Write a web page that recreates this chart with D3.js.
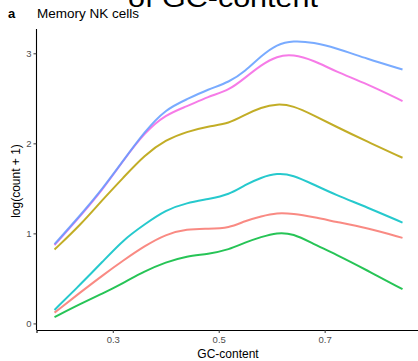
<!DOCTYPE html>
<html>
<head>
<meta charset="utf-8">
<script src="https://cdn.jsdelivr.net/npm/d3@7/dist/d3.min.js"></script>
<style>
  html, body { margin: 0; padding: 0; background: #fff; }
  svg { display: block; }
  text { font-family: "Liberation Sans", Arial, sans-serif; }
</style>
</head>
<body>
<svg id="chart" width="418" height="361"></svg>
<script>
// GC-content grid shared by all smoothed curves
const gcContent = [0.19, 0.24, 0.28, 0.32, 0.36, 0.40, 0.44, 0.48, 0.52, 0.55, 0.58, 0.61, 0.64, 0.68, 0.72, 0.78, 0.847];

// log(count + 1) per group, one array per curve
const seriesNames = ["blue", "pink", "olive", "cyan", "red", "green"];
const blueVals  = [0.88, 1.21, 1.49, 1.81, 2.13, 2.38, 2.49, 2.60, 2.68, 2.80, 2.97, 3.10, 3.14, 3.12, 3.06, 2.94, 2.82];
const pinkVals  = [0.87, 1.20, 1.48, 1.81, 2.12, 2.32, 2.41, 2.52, 2.59, 2.73, 2.87, 2.97, 2.99, 2.92, 2.80, 2.66, 2.47];
const oliveVals = [0.82, 1.10, 1.37, 1.62, 1.87, 2.04, 2.13, 2.19, 2.22, 2.32, 2.40, 2.44, 2.42, 2.31, 2.19, 2.02, 1.84];
const cyanVals  = [0.15, 0.44, 0.68, 0.93, 1.10, 1.26, 1.34, 1.38, 1.43, 1.54, 1.62, 1.67, 1.65, 1.54, 1.43, 1.29, 1.12];
const redVals   = [0.12, 0.35, 0.53, 0.70, 0.86, 0.99, 1.05, 1.05, 1.06, 1.14, 1.19, 1.23, 1.22, 1.18, 1.13, 1.06, 0.95];
const greenVals = [0.07, 0.22, 0.33, 0.45, 0.58, 0.68, 0.75, 0.77, 0.82, 0.90, 0.96, 1.01, 1.00, 0.88, 0.77, 0.59, 0.38];

const xTicks = [0.3, 0.5, 0.7];
const yTicks = [0, 1, 2, 3];

const seriesColors = {
  blue: "#619CFF", pink: "#F564E3", olive: "#B79F00",
  cyan: "#00BFC4", red: "#F8766D", green: "#00BA38"
};
const seriesValues = {
  blue: blueVals, pink: pinkVals, olive: oliveVals,
  cyan: cyanVals, red: redVals, green: greenVals
};

const svg = d3.select("#chart");

const x = d3.scaleLinear().domain([0.156, 0.88]).range([36.5, 420]);
const y = d3.scaleLinear().domain([-0.073, 3.27]).range([330, 29]);

// heading text running above the panel
svg.append("text")
  .attr("x", 128).attr("y", 7)
  .attr("font-size", 26)
  .attr("textLength", 190)
  .attr("lengthAdjust", "spacingAndGlyphs")
  .attr("fill", "#000")
  .text("of GC-content");

svg.append("text")
  .attr("x", 8).attr("y", 18)
  .attr("font-size", 13).attr("font-weight", "bold")
  .text("a");

svg.append("text")
  .attr("x", 37).attr("y", 18)
  .attr("font-size", 13.5)
  .text("Memory NK cells");

// smoothed curves
const line = d3.line()
  .x((d, i) => x(gcContent[i]))
  .y(d => y(d))
  .curve(d3.curveBasis);

svg.append("g")
  .selectAll("path")
  .data(seriesNames.slice().reverse())
  .join("path")
  .attr("d", name => line(seriesValues[name]))
  .attr("fill", "none")
  .attr("stroke", name => seriesColors[name])
  .attr("stroke-width", 2)
  .attr("stroke-opacity", 0.85)
  .attr("stroke-linejoin", "round")
  .attr("stroke-linecap", "butt");

// axes
const xAxis = d3.axisBottom(x).tickValues(xTicks).tickFormat(d3.format(".1f")).tickSizeOuter(0).tickSize(3).tickPadding(3);
const yAxis = d3.axisLeft(y).tickValues(yTicks).tickFormat(d3.format("d")).tickSizeOuter(0).tickSize(3).tickPadding(2);

const gx = svg.append("g").attr("transform", "translate(0,330)").call(xAxis);
const gy = svg.append("g").attr("transform", "translate(36.5,0)").call(yAxis);

[gx, gy].forEach(g => {
  g.select(".domain").attr("stroke", "#000").attr("stroke-width", 1.1);
  g.selectAll(".tick line").attr("stroke", "#333").attr("stroke-width", 1);
  g.selectAll(".tick text").attr("fill", "#4D4D4D").attr("font-size", 9.5)
    .attr("font-family", "'Liberation Sans', Arial, sans-serif");
});
// extend left axis line to the panel top
gy.select(".domain").attr("d", `M0,${y.range()[1]}V330`);

svg.append("text")
  .attr("x", 228).attr("y", 357.5)
  .attr("text-anchor", "middle")
  .attr("font-size", 12)
  .text("GC-content");

svg.append("text")
  .attr("transform", "translate(19.5,181) rotate(-90)")
  .attr("text-anchor", "middle")
  .attr("font-size", 12)
  .text("log(count + 1)");
</script>
</body>
</html>
